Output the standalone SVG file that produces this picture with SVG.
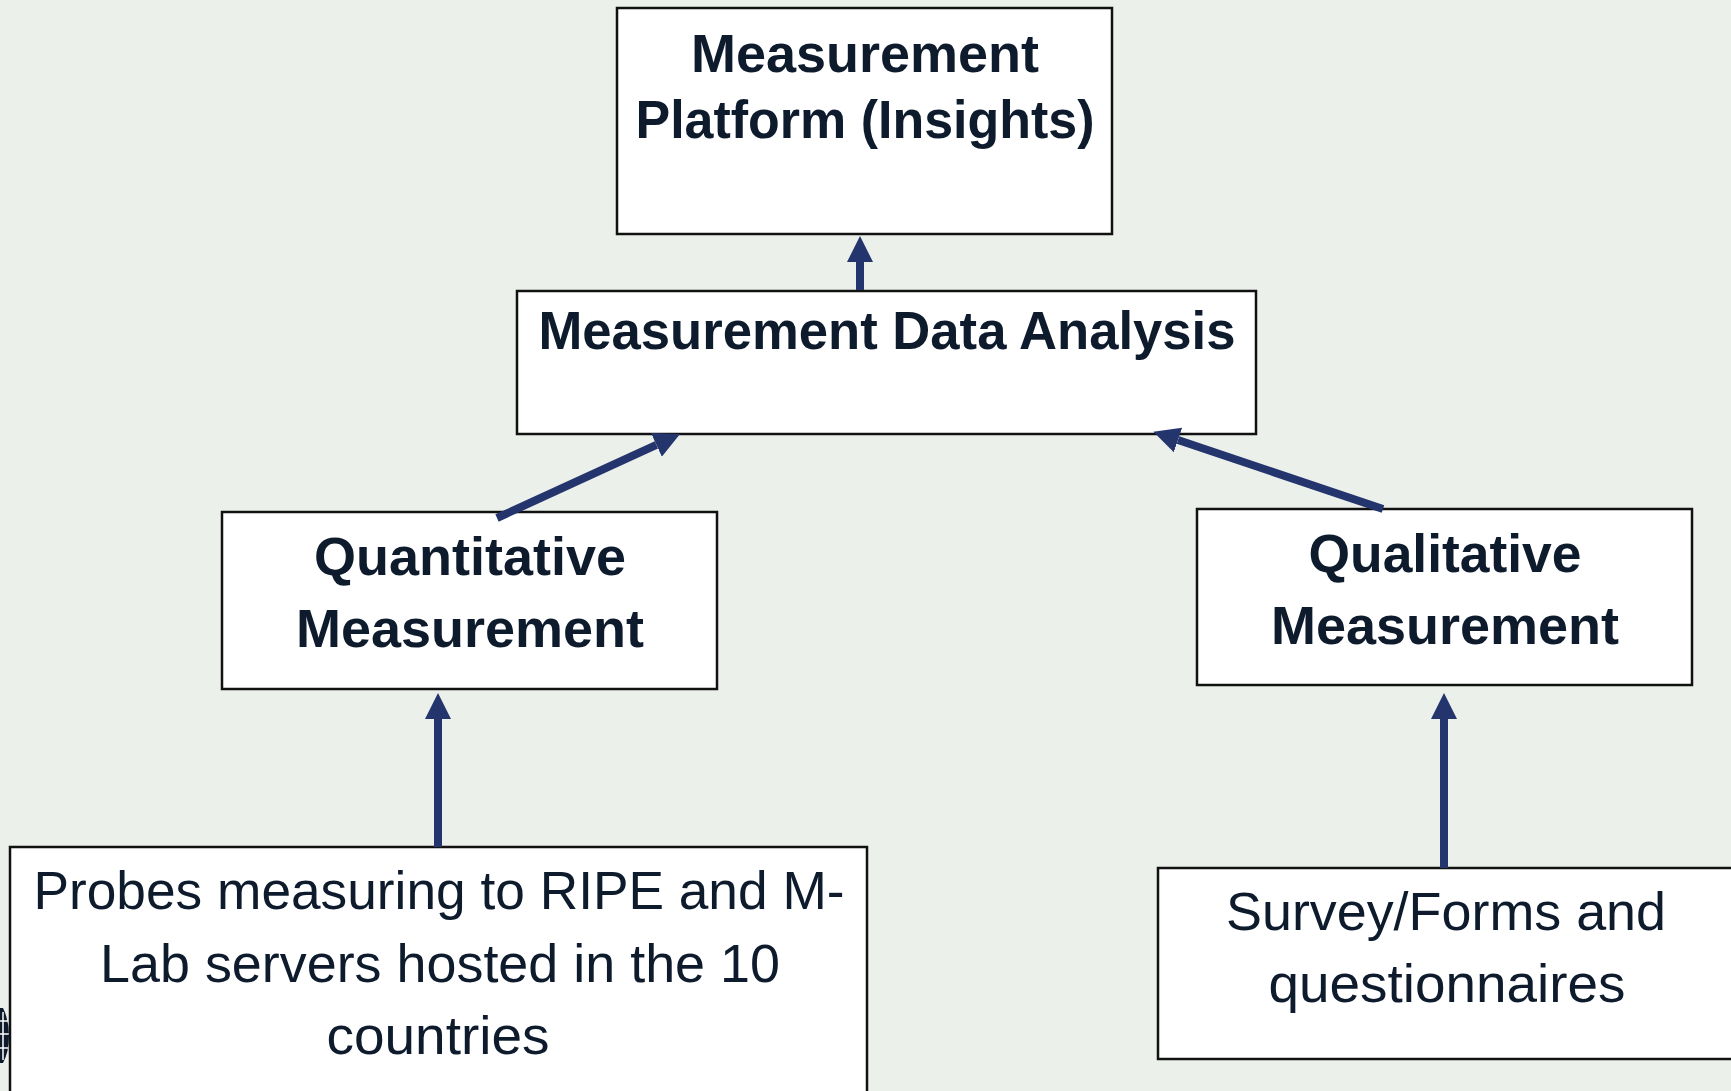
<svg xmlns="http://www.w3.org/2000/svg" width="1731" height="1091" viewBox="0 0 1731 1091">
<style>
.box{fill:#ffffff;stroke:#111111;stroke-width:2.5}
.b{font-family:"Liberation Sans",Arial,sans-serif;font-weight:bold;font-size:53px;fill:#0d1b2d;text-anchor:middle}
.r{font-family:"Liberation Sans",Arial,sans-serif;font-size:53px;fill:#0d1b2d;text-anchor:middle}
.conn{stroke:#24356e;stroke-width:8;fill:none;marker-end:url(#ah)}
</style>
<defs>
<marker id="ah" viewBox="0 -13 26 26" refX="0" refY="0" markerWidth="26" markerHeight="26" markerUnits="userSpaceOnUse" orient="auto">
<path d="M0,-13 L26,0 L0,13 Z" fill="#24356e"/>
</marker>
</defs>
<rect x="0" y="0" width="1731" height="1091" fill="#ebf0ea"/>
<g id="logo-fragment">
<path d="M0,1008 L3,1008 Q9,1020 9,1036 Q9,1052 3,1063 L0,1063 Z" fill="#0d1b2d"/>
<path d="M0,1021 H8 M0,1034 H9 M0,1048 H8 M3,1012 V1060" stroke="#ffffff" stroke-width="1.5" fill="none"/>
</g>
<g id="node-platform">
<rect class="box" x="617" y="8" width="495" height="226"/>
<text class="b" x="865" y="72" textLength="348" lengthAdjust="spacingAndGlyphs">Measurement</text>
<text class="b" x="865" y="138" textLength="459" lengthAdjust="spacingAndGlyphs">Platform (Insights)</text>
</g>
<g id="node-analysis">
<rect class="box" x="517" y="291" width="739" height="143"/>
<text class="b" x="887" y="349" textLength="697" lengthAdjust="spacingAndGlyphs">Measurement Data Analysis</text>
</g>
<g id="node-quantitative">
<rect class="box" x="222" y="512" width="495" height="177"/>
<text class="b" x="470" y="575" textLength="312" lengthAdjust="spacingAndGlyphs">Quantitative</text>
<text class="b" x="470" y="647" textLength="348" lengthAdjust="spacingAndGlyphs">Measurement</text>
</g>
<g id="node-qualitative">
<rect class="box" x="1197" y="509" width="495" height="176"/>
<text class="b" x="1445" y="572" textLength="273" lengthAdjust="spacingAndGlyphs">Qualitative</text>
<text class="b" x="1445" y="644" textLength="348" lengthAdjust="spacingAndGlyphs">Measurement</text>
</g>
<g id="node-probes">
<rect class="box" x="10" y="847" width="857" height="260"/>
<text class="r" x="439" y="909" textLength="811" lengthAdjust="spacingAndGlyphs">Probes measuring to RIPE and M-</text>
<text class="r" x="440" y="982" textLength="680" lengthAdjust="spacingAndGlyphs">Lab servers hosted in the 10</text>
<text class="r" x="438" y="1054" textLength="223" lengthAdjust="spacingAndGlyphs">countries</text>
</g>
<g id="node-survey">
<rect class="box" x="1158" y="868" width="578" height="191"/>
<text class="r" x="1446" y="930" textLength="440" lengthAdjust="spacingAndGlyphs">Survey/Forms and</text>
<text class="r" x="1447" y="1002" textLength="357" lengthAdjust="spacingAndGlyphs">questionnaires</text>
</g>
<g id="connectors">
<line class="conn" x1="860" y1="290" x2="860" y2="262"/>
<line class="conn" x1="497" y1="518" x2="656.4" y2="444.9"/>
<line class="conn" x1="1383" y1="509" x2="1178" y2="440"/>
<line class="conn" x1="438" y1="847" x2="438" y2="719"/>
<line class="conn" x1="1444" y1="868" x2="1444" y2="719"/>
</g>
</svg>
